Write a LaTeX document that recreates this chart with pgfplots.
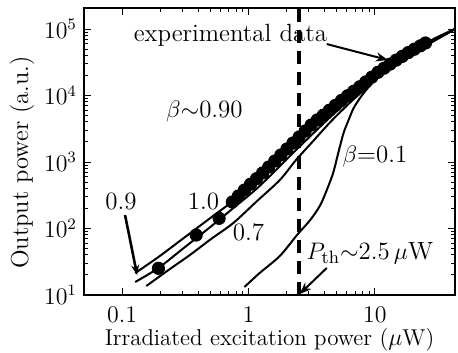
\documentclass[border=0pt]{standalone}
\usepackage{pgfplots}
\pgfplotsset{compat=1.18}
\usetikzlibrary{arrows.meta}
\begin{document}
\begin{tikzpicture}
\begin{axis}[
  scale only axis,
  width=185.5bp, height=143.5bp,
  xmode=log, ymode=log,
  xmin=0.05, xmax=43,
  ymin=10, ymax=2.07e5,
  xtick={0.1,1,10},
  xticklabels={0.1,1,10},
  ytick={10,100,1000,10000,100000},
  tick align=inside,
  major tick length=3.5pt,
  minor tick length=2pt,
  axis line style={line width=0.9pt},
  every tick/.style={line width=0.5pt, black},
  tick label style={font=\fontsize{12}{14}\selectfont},
  xticklabel style={yshift=-2.5pt},
  xlabel={Irradiated excitation power ($\mu$W)},
  ylabel={Output power (a.u.)},
  xlabel style={font=\fontsize{11.5}{13}\selectfont, at={(axis description cs:0.5,-0.157)}, anchor=center},
  ylabel style={font=\fontsize{12.3}{14}\selectfont, at={(axis description cs:-0.167,0.462)}, anchor=center, rotate=0},
  clip=true,
]
% beta = 1.0
\addplot[black, line width=1bp, smooth] coordinates {
(0.1271,21.4) (0.1941,37.3) (0.3076,71.9) (0.4875,139) (0.7586,259) (1.2246,518)
(2.377,1931) (4.446,5648) (7.727,13420) (13.43,28740) (25.12,57460) (46.13,107200)};
% beta = 0.9
\addplot[black, line width=1bp, smooth] coordinates {
(0.1271,15.7) (0.1941,25.5) (0.3076,50.9) (0.4875,101.7) (0.7586,203) (1.2246,436)
(2.377,1515) (4.446,4750) (7.727,12100) (13.43,26830) (25.12,55530) (46.13,107200)};
% beta = 0.7
\addplot[black, line width=1bp, smooth] coordinates {
(0.1556,13.66) (0.2333,23.8) (0.3436,39.9) (0.5058,69.5) (0.7586,121) (1.159,255)
(1.770,536) (2.377,1072) (3.251,2069) (4.446,3995) (6.427,7986) (9.29,14890)
(13.43,27770) (25.12,57460) (46.13,107200)};
% beta = 0.1
\addplot[black, line width=1bp, smooth] coordinates {
(0.929,13.19) (1.225,21.4) (1.770,38.6) (2.421,79.8) (3.076,134) (3.698,225)
(4.285,435) (4.699,708) (5.152,1413) (5.649,2728) (6.194,4285) (6.792,6490)
(7.727,9490) (8.79,12970) (11.17,21050) (14.19,30820) (19.41,45110) (28.05,68370)
(46.13,107200)};
% experimental data
\addplot[only marks, mark=*, mark size=3.1pt, black] coordinates {
(0.194,25.2) (0.386,79.8) (0.586,142)
(0.7447,250.3) (0.8318,308.1) (0.9290,379.3) (1.0375,463.7) (1.1588,562.9)
(1.2942,685.6) (1.4454,841.0) (1.6144,1035) (1.8030,1274) (2.0137,1569)
(2.2491,1931) (2.5119,2376) (2.8054,2925) (3.1333,3601) (3.4995,4297)
(3.9084,5074) (4.3652,6010) (4.8753,7122) (5.4450,8439) (6.0814,9913)
(6.7920,11587) (7.5858,13539) (8.4723,16016) (9.4624,18911) (10.568,22333)
(11.803,25733) (13.183,29667) (14.723,34067) (16.444,38726) (18.365,44174)
(20.512,49695) (22.909,55898) (25.119,61582)};
% threshold
\addplot[black, line width=2bp, dash pattern=on 6.5bp off 4bp] coordinates {(2.5,10) (2.5,2.07e5)};
% annotations
\node[font=\fontsize{12.5}{14}\selectfont] at (axis cs:0.72,81300) {experimental data};
\draw[line width=1bp, -{Stealth[length=6pt,width=4.5pt]}] (axis cs:4.16,59400) -- (axis cs:12.68,34200);
\node[font=\fontsize{12.5}{14}\selectfont] at (axis cs:0.448,5650) {$\beta$$\sim$0.90};
\node[font=\fontsize{12.5}{14}\selectfont] at (axis cs:10,1189) {$\beta$=0.1};
\node[font=\fontsize{12.5}{14}\selectfont] at (axis cs:0.098,259) {0.9};
\draw[line width=1.3bp, -{Stealth[length=5pt,width=4pt]}] (axis cs:0.1056,160) -- (axis cs:0.1316,20);
\node[font=\fontsize{12.5}{14}\selectfont] at (axis cs:0.44,259) {1.0};
\node[font=\fontsize{12.5}{14}\selectfont] at (axis cs:1.0,88.5) {0.7};
\node[font=\fontsize{12.5}{14}\selectfont] at (axis cs:9.12,42.9) {$P_{\mathrm{th}}$$\sim$2.5\,$\mu$W};
\draw[line width=1bp, -{Stealth[length=6pt,width=4.5pt]}] (axis cs:4.16,25.5) -- (axis cs:2.54,10.35);
\end{axis}
\pgfresetboundingbox
\path[use as bounding box] ([shift={(-42bp,-29bp)}]current axis.south west) rectangle ([shift={(1.5bp,4bp)}]current axis.north east);
\end{tikzpicture}
\end{document}
